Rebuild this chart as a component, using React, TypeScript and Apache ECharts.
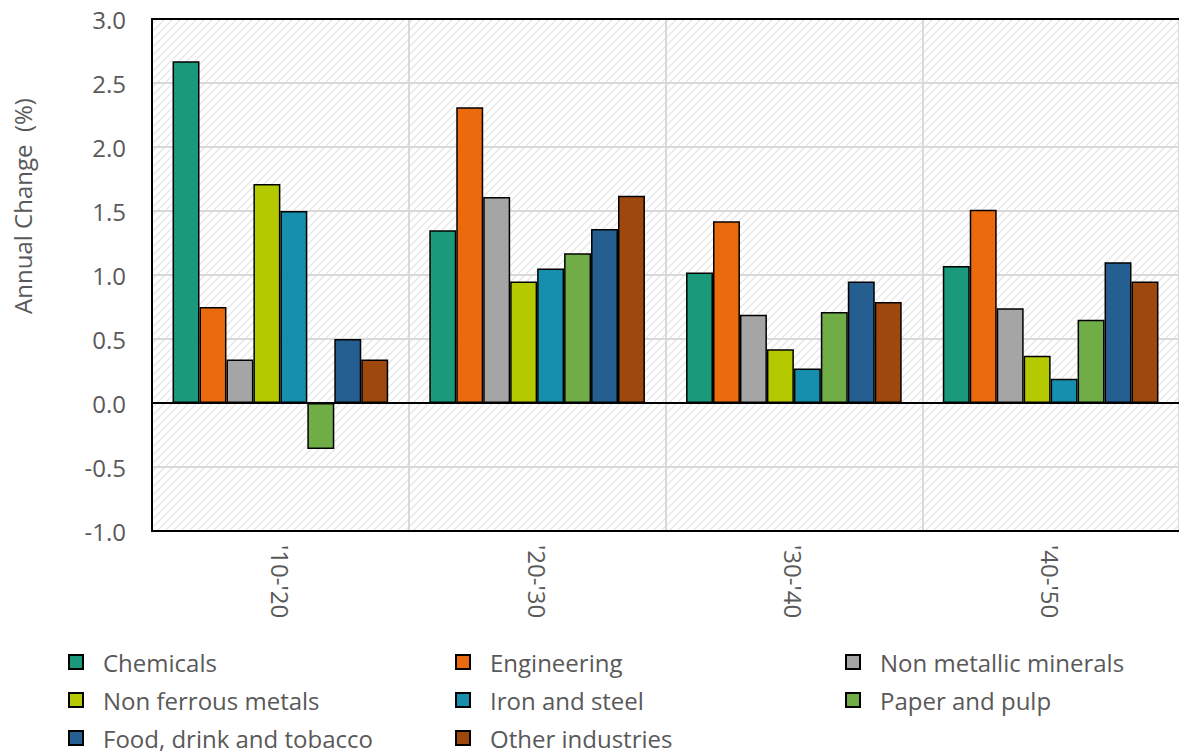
import React, { useEffect, useRef } from "react";
import * as echarts from "echarts";

const categories = ["'10-'20", "'20-'30", "'30-'40", "'40-'50"];
const seriesNames = [
  "Chemicals",
  "Engineering",
  "Non metallic minerals",
  "Non ferrous metals",
  "Iron and steel",
  "Paper and pulp",
  "Food, drink and tobacco",
  "Other industries",
];
const chemicals = [2.67, 1.35, 1.02, 1.07];
const engineering = [0.75, 2.31, 1.42, 1.51];
const nonMetallic = [0.34, 1.61, 0.69, 0.74];
const nonFerrous = [1.71, 0.95, 0.42, 0.37];
const ironSteel = [1.5, 1.05, 0.27, 0.19];
const paperPulp = [-0.36, 1.17, 0.71, 0.65];
const foodDrink = [0.5, 1.36, 0.95, 1.1];
const otherInd = [0.34, 1.62, 0.79, 0.95];
const seriesData = [chemicals, engineering, nonMetallic, nonFerrous, ironSteel, paperPulp, foodDrink, otherInd];
const colors = ["#1a9a7a", "#ec6a0e", "#a5a5a5", "#b5c900", "#168ead", "#70ad47", "#255e91", "#9e480e"];

const FONT = "'Open Sans', sans-serif";
const GRAY = "#595959";
const FS = 24;

function makePattern(): any {
  const c = document.createElement("canvas");
  c.width = 8;
  c.height = 8;
  const ctx = c.getContext("2d");
  if (!ctx) return "#f7f7f7";
  ctx.fillStyle = "#ffffff";
  ctx.fillRect(0, 0, 8, 8);
  ctx.strokeStyle = "#e6e6e6";
  ctx.lineWidth = 1.3;
  ctx.beginPath();
  ctx.moveTo(-2, 10);
  ctx.lineTo(10, -2);
  ctx.moveTo(-6, 6);
  ctx.lineTo(6, -6);
  ctx.moveTo(2, 14);
  ctx.lineTo(14, 2);
  ctx.stroke();
  return { image: c.toDataURL(), repeat: "repeat" };
}

export default function App() {
  const ref = useRef<HTMLDivElement>(null);
  useEffect(() => {
    if (!ref.current) return;
    const chart = echarts.init(ref.current, undefined, { renderer: "svg" });
    const legendPos = [
      [68, 662], [455, 662], [845, 662],
      [68, 700], [455, 700], [845, 700],
      [68, 738], [455, 738],
    ];
    const series: any[] = seriesNames.map((name, i) => ({
      name,
      type: "bar",
      data: seriesData[i],
      barGap: "0%",
      barCategoryGap: "16%",
      itemStyle: { color: colors[i], borderColor: "#000", borderWidth: 1.5 },
    }));
    series[0].markLine = {
      silent: true,
      symbol: "none",
      label: { show: false },
      lineStyle: { color: "#000", width: 2, type: "solid" },
      data: [{ yAxis: 0 }],
    };
    const border = { show: true, onZero: false, lineStyle: { color: "#000", width: 2 } };
    const borderAxisX = (position: string) => ({
      type: "category",
      data: categories,
      position,
      axisLine: border,
      axisTick: { show: false },
      splitLine: { show: false },
      axisLabel: { show: false },
      z: 4,
    });
    chart.setOption({
      animation: false,
      textStyle: { fontFamily: FONT },
      grid: {
        left: 152,
        top: 19,
        right: -3,
        bottom: 222,
        show: true,
        borderColor: "#000",
        borderWidth: 1.5,
        backgroundColor: makePattern(),
      },
      xAxis: [
        {
          type: "category",
          data: categories,
          axisLine: { show: false, onZero: false },
          axisTick: { show: false },
          splitLine: { show: true, lineStyle: { color: "#d9d9d9", width: 2 } },
          axisLabel: { rotate: -90, color: GRAY, fontSize: FS, fontFamily: FONT, margin: 14 },
        },
        borderAxisX("top"),
        borderAxisX("bottom"),
      ],
      yAxis: [
        {
          type: "value",
          min: -1,
          max: 3,
          interval: 0.5,
          axisLine: { show: false },
          axisTick: { show: false },
          splitLine: { lineStyle: { color: "#d9d9d9", width: 2 } },
          axisLabel: {
            color: GRAY,
            fontSize: FS,
            fontFamily: FONT,
            margin: 26,
            formatter: (v: number) => v.toFixed(1),
          },
        },
        {
          type: "value",
          min: -1,
          max: 3,
          interval: 0.5,
          position: "left",
          axisLine: border,
          axisTick: { show: false },
          splitLine: { show: false },
          axisLabel: { show: false },
          z: 4,
        },
      ],
      legend: seriesNames.map((name, i) => ({
        left: legendPos[i][0],
        top: legendPos[i][1] - 15,
        padding: 0,
        itemWidth: 14,
        itemHeight: 14,
        icon: "rect",
        selectedMode: false,
        data: [name],
        textStyle: { color: GRAY, fontSize: FS, fontFamily: FONT, lineHeight: 30, padding: [0, 0, 0, 15] },
      })),
      graphic: [
        {
          type: "text",
          x: 22,
          y: 206,
          rotation: Math.PI / 2,
          style: {
            text: "Annual Change  (%)",
            fill: GRAY,
            font: `${FS}px ${FONT}`,
            textAlign: "center",
            textVerticalAlign: "middle",
          },
        },
      ],
      series,
    });
    return () => chart.dispose();
  }, []);
  return <div ref={ref} style={{ width: 1179, height: 753, position: "absolute", left: 0, top: 0 }} />;
}
